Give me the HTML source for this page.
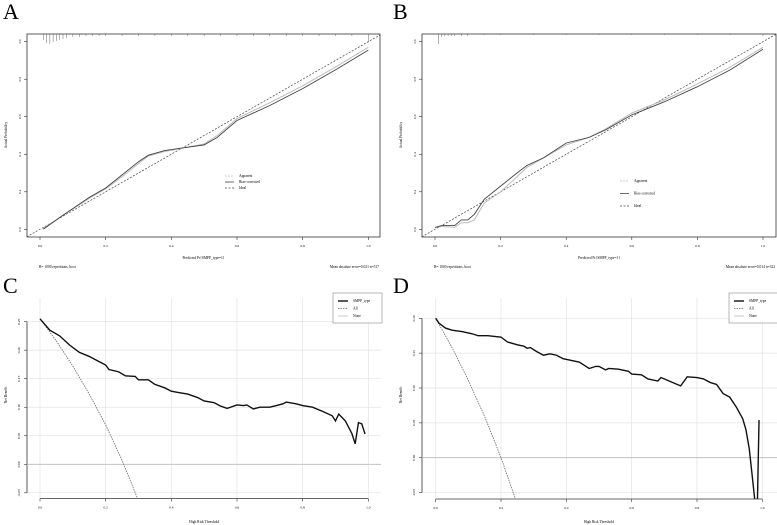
<!DOCTYPE html>
<html><head><meta charset="utf-8"><style>
html,body{margin:0;padding:0;background:#fff}
svg{display:block;font-family:"Liberation Serif",serif}
</style></head><body>
<svg id="fig" width="777" height="525" viewBox="0 0 777 525" xmlns="http://www.w3.org/2000/svg">
<defs>
<clipPath id="clipA"><rect x="27" y="34" width="353" height="203"/></clipPath>
<clipPath id="clipB"><rect x="422" y="34" width="354" height="203"/></clipPath>
<clipPath id="clipC"><rect x="27" y="298" width="354" height="201"/></clipPath>
<clipPath id="clipD"><rect x="422" y="298" width="355" height="201"/></clipPath>
</defs>
<g id="root"></g>
</svg>
<script>
// ---- Calibration A ----
const calAx = [0.01,0.07,0.15,0.2,0.25,0.3,0.33,0.38,0.44,0.5,0.54,0.6,0.7,0.8,0.9,1.0];
const calAbias = [0.0,0.075,0.17,0.22,0.29,0.36,0.395,0.42,0.435,0.45,0.49,0.58,0.66,0.75,0.85,0.955];
const calAapp = [0.005,0.075,0.165,0.215,0.28,0.35,0.39,0.415,0.435,0.455,0.5,0.59,0.675,0.765,0.865,0.97];
const rugA = [0.01,0.02,0.03,0.04,0.05,0.06,0.07,0.08,0.1,0.12,0.14,0.16,0.18,0.2,0.25,0.3,0.35,0.4,0.45,0.5,0.55,0.6,0.65,0.7,0.75,0.8,0.85,0.9,0.95,1.0];
const rugAlen = [6,9,10,8,7,6,5,4,3,3,2,2,2,2,2,2,2,2,2,2,2,2,2,2,2,2,2,2,2,8];
// ---- Calibration B ----
const calBx = [0.0,0.02,0.06,0.08,0.1,0.12,0.15,0.2,0.25,0.28,0.33,0.4,0.47,0.52,0.6,0.7,0.8,0.9,1.0];
const calBbias = [0.01,0.02,0.02,0.05,0.05,0.08,0.16,0.23,0.3,0.34,0.38,0.46,0.49,0.53,0.61,0.68,0.76,0.85,0.96];
const calBapp = [0.01,0.015,0.01,0.035,0.035,0.05,0.14,0.2,0.28,0.33,0.38,0.45,0.49,0.535,0.62,0.69,0.775,0.865,0.97];
const rugB = [0.01,0.02,0.03,0.04,0.05,0.06,0.08,0.1,0.15,0.2,0.3,0.4,0.5,0.6,0.7,0.8,0.9,1.0];
const rugBlen = [10,3,2,2,2,2,2,2,1,1,1,1,1,1,1,1,1,2];
const calTicks = [0,0.2,0.4,0.6,0.8,1.0];
const calTickLabels = ["0.0","0.2","0.4","0.6","0.8","1.0"];
// ---- DCA C ----
const dcaCx = [0,0.03,0.06,0.09,0.12,0.15,0.18,0.2,0.21,0.24,0.26,0.29,0.3,0.33,0.35,0.38,0.4,0.42,0.45,0.48,0.5,0.53,0.55,0.57,0.6,0.62,0.63,0.65,0.67,0.7,0.72,0.74,0.75,0.78,0.8,0.83,0.86,0.89,0.9,0.91,0.93,0.95,0.96,0.97,0.98,0.99];
const dcaCmodel = [0.255,0.235,0.225,0.209,0.196,0.189,0.18,0.174,0.166,0.162,0.155,0.154,0.148,0.148,0.14,0.134,0.128,0.126,0.123,0.117,0.111,0.108,0.102,0.098,0.104,0.103,0.104,0.097,0.1,0.1,0.103,0.106,0.109,0.106,0.103,0.1,0.093,0.085,0.076,0.088,0.076,0.054,0.036,0.073,0.071,0.053];
const dcaCallx = [0,0.05,0.1,0.15,0.2,0.25,0.3];
const dcaCall = [0.255,0.216,0.172,0.123,0.069,0.007,-0.064];
const dcaCyTicks = [0.25,0.2,0.15,0.1,0.05,0,-0.05];
const dcaCyLabels = ["0.25","0.20","0.15","0.10","0.05","0.00","-0.05"];
// ---- DCA D ----
const dcaDx = [0,0.01,0.03,0.05,0.08,0.11,0.13,0.16,0.2,0.22,0.25,0.27,0.28,0.29,0.31,0.33,0.35,0.37,0.39,0.41,0.44,0.47,0.49,0.5,0.52,0.53,0.56,0.59,0.6,0.63,0.65,0.68,0.69,0.72,0.74,0.75,0.77,0.8,0.82,0.84,0.86,0.88,0.9,0.92,0.94,0.95,0.96,0.97,0.978,0.985,0.99];
const dcaDmodel = [0.2,0.193,0.186,0.183,0.181,0.178,0.175,0.175,0.173,0.166,0.162,0.16,0.157,0.158,0.152,0.147,0.149,0.147,0.142,0.14,0.137,0.128,0.131,0.131,0.126,0.128,0.127,0.124,0.12,0.119,0.113,0.11,0.115,0.109,0.105,0.103,0.116,0.115,0.113,0.108,0.105,0.092,0.087,0.073,0.056,0.04,0.013,-0.03,-0.065,-0.065,0.054];
const dcaDallx = [0,0.05,0.1,0.15,0.2,0.25];
const dcaDall = [0.2,0.158,0.111,0.059,0.0,-0.067];
const dcaDyTicks = [0.2,0.15,0.1,0.05,0,-0.05];
const dcaDyLabels = ["0.20","0.15","0.10","0.05","0.00","-0.05"];

const NS="http://www.w3.org/2000/svg";
const root=document.getElementById('root');
function el(tag,attrs,parent){const e=document.createElementNS(NS,tag);for(const k in attrs)e.setAttribute(k,attrs[k]);(parent||root).appendChild(e);return e;}
function txt(x,y,s,size,anchor,parent,extra){const t=el('text',Object.assign({x:x,y:y,'font-size':size,'text-anchor':anchor||'start',fill:'#000'},extra||{}),parent);t.textContent=s;return t;}
function lin(d0,d1,r0,r1){return v=>r0+(v-d0)/(d1-d0)*(r1-r0);}
function pathOf(xs,ys,sx,sy){return xs.map((x,i)=>(i?'L':'M')+sx(x).toFixed(2)+','+sy(ys[i]).toFixed(2)).join(' ');}

// Panel labels
[["A",3,19],["B",393,19],["C",3,293],["D",393,293]].forEach(p=>{
  const t=txt(p[1],p[2],p[0],22,'start');
  
  
});

function calPanel(id,box,x0,x1,xs,bias,app,rug,rugLen,legend,mae,clip){
  const g=el('g',{});
  
  
  const sx=lin(0,1,x0,x1), sy=lin(0,1,229.3,41.7);
  const fr=el('rect',{x:box[0],y:box[1],width:box[2]-box[0],height:box[3]-box[1],fill:'none',stroke:'#333','stroke-width':0.8},g);
  
  
  calTicks.forEach((v,i)=>{
    el('line',{x1:sx(v),x2:sx(v),y1:box[3],y2:box[3]+3,stroke:'#333','stroke-width':0.6},g);
    const t=txt(sx(v),box[3]+10,calTickLabels[i],3.5,'middle',g);
    
    
    el('line',{x1:box[0]-3,x2:box[0],y1:sy(v),y2:sy(v),stroke:'#333','stroke-width':0.6},g);
    const t2=txt(box[0]-6,sy(v),calTickLabels[i],3.5,'middle',g,{transform:'rotate(-90 '+(box[0]-6)+' '+sy(v)+')'});
    
    
  });
  const cg=el('g',{'clip-path':'url(#'+clip+')'},g);
  const ideal=el('line',{x1:sx(-0.05),y1:sy(-0.05),x2:sx(1.05),y2:sy(1.05),stroke:'#444','stroke-width':0.7,'stroke-dasharray':'2,1.5'},cg);
  
  
  const pa=el('path',{d:pathOf(xs,app,sx,sy),fill:'none',stroke:'#bbb','stroke-width':1},cg);
  
  
  const pb=el('path',{d:pathOf(xs,bias,sx,sy),fill:'none',stroke:'#444','stroke-width':0.9},cg);
  
  
  rug.forEach((v,i)=>{
    const r=el('line',{x1:sx(v),x2:sx(v),y1:box[1],y2:box[1]+rugLen[i],stroke:'#666','stroke-width':0.5},g);
    
    
  });
  const lg=el('g',{},g);
  
  
  [["Apparent",'#bbb','2,1'],["Bias-corrected",'#444',''],["Ideal",'#444','2,1.5']].forEach((e,i)=>{
    const y=legend[1]+i*legend[2];
    el('line',{x1:legend[0],x2:legend[0]+9,y1:y,y2:y,stroke:e[1],'stroke-width':0.8,'stroke-dasharray':e[2]},lg);
    const t=txt(legend[0]+14,y+1.2,e[0],3.6,'start',lg);
    
    
  });
  const xt=txt((box[0]+box[2])/2,259,'Predicted Pr{SMPP_type=1}',3.6,'middle',g);
  
  
  const yt=txt(box[0]-20,135,'Actual Probability',3.6,'middle',g,{transform:'rotate(-90 '+(box[0]-20)+' 135)'});
  
  
  const bn=txt(x0-1,268,'B= 1000 repetitions, boot',3.6,'start',g);
  
  
  const mn=txt(box[2]-1,268,mae,3.6,'end',g);
  
  
}

function dcaPanel(id,left,right,x0,x1,y0px,perUnit,top,bottom,xs,model,allx,all,yTicks,yLabels,clip,legX){
  const g=el('g',{});
  
  
  const sx=lin(0,1,x0,x1), sy=v=>y0px-v*perUnit;
  [0,0.2,0.4,0.6,0.8,1.0].forEach(v=>{
    el('line',{x1:sx(v),x2:sx(v),y1:top,y2:bottom,stroke:'#e3e3e3','stroke-width':0.7},g);
  });
  yTicks.forEach(v=>{
    el('line',{x1:left,x2:right,y1:sy(v),y2:sy(v),stroke:'#e3e3e3','stroke-width':0.7},g);
  });
  el('line',{x1:left,x2:left,y1:sy(yTicks[0]),y2:sy(yTicks[yTicks.length-1]),stroke:'#333','stroke-width':0.8},g);
  el('line',{x1:sx(0),x2:sx(1),y1:bottom,y2:bottom,stroke:'#333','stroke-width':0.8},g);
  yTicks.forEach((v,i)=>{
    el('line',{x1:left-3,x2:left,y1:sy(v),y2:sy(v),stroke:'#333','stroke-width':0.6},g);
    const t=txt(left-7,sy(v),yLabels[i],3.5,'middle',g,{transform:'rotate(-90 '+(left-7)+' '+sy(v)+')'});
    
    
  });
  calTicks.forEach((v,i)=>{
    el('line',{x1:sx(v),x2:sx(v),y1:bottom,y2:bottom+3,stroke:'#333','stroke-width':0.6},g);
    const t=txt(sx(v),bottom+10,calTickLabels[i],3.5,'middle',g);
    
    
  });
  const cg=el('g',{'clip-path':'url(#'+clip+')'},g);
  const none=el('line',{x1:left,x2:right,y1:sy(0),y2:sy(0),stroke:'#bbb','stroke-width':0.8},cg);
  
  
  const pa=el('path',{d:pathOf(allx,all,sx,sy),fill:'none',stroke:'#666','stroke-width':0.8,'stroke-dasharray':'1.5,1'},cg);
  
  
  const pm=el('path',{d:pathOf(xs,model,sx,sy),fill:'none',stroke:'#111','stroke-width':1.4},cg);
  
  
  const lg=el('g',{},g);
  
  
  el('rect',{x:legX,y:293,width:49,height:30,fill:'#fff',stroke:'#888','stroke-width':0.6},lg);
  [["SMPP_type",'#111',1.4,''],["All",'#666',0.8,'1.5,1'],["None",'#bbb',0.8,'']].forEach((e,i)=>{
    const y=301+i*7.5;
    el('line',{x1:legX+5,x2:legX+15,y1:y,y2:y,stroke:e[1],'stroke-width':e[2],'stroke-dasharray':e[3]},lg);
    const t=txt(legX+20,y+1.2,e[0],3.6,'start',lg);
    
    
  });
  const xt=txt((x0+x1)/2,523,'High Risk Threshold',3.6,'middle',g);
  
  
  const yt=txt(left-20,395,'Net Benefit',3.6,'middle',g,{transform:'rotate(-90 '+(left-20)+' 395)'});
  
  
}

calPanel('a',[27,34,380,237],40,368.3,calAx,calAbias,calAapp,rugA,rugAlen,[225,176,6],'Mean absolute error=0.021 n=517','clipA');
calPanel('b',[422,34,776,237],435,763,calBx,calBbias,calBapp,rugB,rugBlen,[620,181,12.5],'Mean absolute error=0.014 n=322','clipB');
dcaPanel('c',27,381,40,368.3,464.3,570.7,298,498.5,dcaCx,dcaCmodel,dcaCallx,dcaCall,dcaCyTicks,dcaCyLabels,'clipC',333);
dcaPanel('d',422,777,435.7,762.3,457.7,697,298,499,dcaDx,dcaDmodel,dcaDallx,dcaDall,dcaDyTicks,dcaDyLabels,'clipD',729);
</script>
</body></html>
